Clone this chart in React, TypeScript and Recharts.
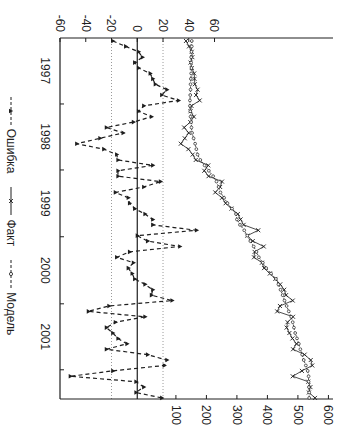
import { LineChart, Line, XAxis, YAxis, ReferenceLine, Legend } from 'recharts'

// monthly values, Jan 1997 onward
const model = [
  152, 152, 151, 150, 150, 151, 150, 149, 148, 148, 147, 146, 146, 147, 148, 150, 151,
  153, 158, 163, 167, 171, 180, 194, 208, 222, 233, 240, 246, 258, 269, 284, 297, 300,
  310, 324, 334, 344, 355, 364, 372, 385, 396, 412, 428, 436, 443, 450, 456, 463, 470,
  478, 483, 487, 491, 497, 503, 508, 514, 519, 526, 532, 535, 535, 536, 537, 537,
]
const fact = [
  133, 143, 152, 154, 148, 152, 160, 161, 162, 171, 166, 178, 151, 148, 159, 147, 127,
  142, 129, 116, 141, 155, 165, 206, 193, 207, 251, 245, 229, 251, 263, 282, 303, 312,
  322, 370, 334, 352, 388, 358, 356, 382, 389, 408, 426, 442, 455, 461, 483, 441, 432,
  484, 466, 463, 472, 482, 495, 484, 522, 542, 547, 513, 483, 534, 541, 536, 556,
]
const errors = [
  -19, -9, 1, 4, -2, 1, 10, 12, 14, 23, 19, 32, 5, 1, 11, -3, -24,
  -11, -29, -47, -26, -16, -15, 12, -15, -15, 18, 5, -17, -7, -6, -2, 6, 12,
  12, 46, 0, 8, 33, -6, -16, -3, -7, -4, -2, 6, 12, 11, 27, -22, -38,
  6, -17, -24, -19, -15, -8, -24, 8, 23, 21, -19, -52, -1, 5, -1, 19,
]

const years = ['1997', '1998', '1999', '2000', '2001']
const yearMid = [5.5, 17.7, 30, 42.4, 54.7]
const yearEdge = [11.65, 23.85, 36.2, 48.6, 60.8]
const errTicks = [-60, -40, -20, 0, 20, 40, 60]
const levelTicks = [100, 200, 300, 400, 500, 600]

const rows = fact.map((f, i) => ({ n: i, fact: f, model: model[i], err: errors[i] }))

const INK = '#1e1e1e'
const FONT = '"Liberation Sans", Arial, sans-serif'

function Triangle({ cx, cy, index }: any) {
  if (cx == null || cy == null) return <g key={index} />
  return <path key={index} d={`M${cx},${cy - 2.6}L${cx + 2.3},${cy + 1.6}L${cx - 2.3},${cy + 1.6}Z`} fill={INK} />
}

function Cross({ cx, cy, index }: any) {
  if (cx == null || cy == null) return <g key={index} />
  return (
    <path key={index} d={`M${cx - 2},${cy - 2}L${cx + 2},${cy + 2}M${cx - 2},${cy + 2}L${cx + 2},${cy - 2}`} stroke={INK} strokeWidth={0.9} />
  )
}

function Ring({ cx, cy, index }: any) {
  if (cx == null || cy == null) return <g key={index} />
  return <circle key={index} cx={cx} cy={cy} r={1.4} fill="#fff" stroke={INK} strokeWidth={0.7} />
}

function YearTick({ x, y, payload }: any) {
  const v = payload.value
  const k = yearMid.indexOf(v)
  if (k >= 0) {
    return (
      <text x={x} y={y + 19} textAnchor="middle" fontSize={12} fontFamily={FONT} fill={INK}>
        {years[k]}
      </text>
    )
  }
  return <line x1={x} x2={x} y1={y} y2={y - 4} stroke={INK} strokeWidth={1} />
}

function LegendBox() {
  const items = [
    { name: 'Ошибка', dash: '3 2', mark: <path d="M14,1.8L16.3,6L11.7,6Z" fill={INK} /> },
    { name: 'Факт', dash: undefined, mark: <path d="M12,2L16,6M12,6L16,2" stroke={INK} strokeWidth={0.9} /> },
    { name: 'Модель', dash: '3 2', mark: <circle cx={14} cy={4} r={1.6} fill="#fff" stroke={INK} strokeWidth={0.8} /> },
  ]
  return (
    <div style={{ display: 'flex', justifyContent: 'center', gap: 14, fontFamily: FONT, fontSize: 12, color: INK }}>
      {items.map(it => (
        <span key={it.name} style={{ display: 'flex', alignItems: 'center', gap: 4 }}>
          <svg width={28} height={8}>
            <line x1={0} x2={28} y1={4} y2={4} stroke={INK} strokeWidth={1} strokeDasharray={it.dash} />
            {it.mark}
          </svg>
          {it.name}
        </span>
      ))}
    </div>
  )
}

export default function App() {
  return (
    <div style={{ position: 'fixed', left: 0, top: 0, width: 346, height: 432, background: '#fff', overflow: 'hidden' }}>
      <div
        style={{
          position: 'absolute',
          left: 0,
          top: 0,
          width: 432,
          height: 346,
          transformOrigin: '0 0',
          transform: 'translateX(346px) rotate(90deg)',
        }}
      >
        <LineChart width={432} height={346} data={rows} margin={{ top: 13, right: 0, bottom: 36, left: 0 }}>
          <XAxis
            dataKey="n"
            type="number"
            domain={[-0.55, 66.2]}
            ticks={[...yearMid, ...yearEdge].sort((a, b) => a - b)}
            tick={<YearTick />}
            tickLine={false}
            tickSize={0}
            tickMargin={0}
            height={24}
            axisLine={{ stroke: INK, strokeWidth: 1.2 }}
            interval={0}
          />
          <YAxis
            yAxisId="err"
            domain={[-60, 152]}
            ticks={errTicks}
            width={38}
            tickSize={-4}
            tickMargin={10}
            tick={{ fill: INK, fontSize: 12, fontFamily: FONT }}
            tickLine={{ stroke: INK }}
            axisLine={{ stroke: INK, strokeWidth: 1.2 }}
            interval={0}
          />
          <YAxis
            yAxisId="lvl"
            orientation="right"
            domain={[-280, 615]}
            ticks={levelTicks}
            width={33}
            tickSize={-4}
            tickMargin={10}
            tick={{ fill: INK, fontSize: 12, fontFamily: FONT }}
            tickLine={{ stroke: INK }}
            axisLine={{ stroke: INK, strokeWidth: 1.2 }}
            interval={0}
          />
          <ReferenceLine yAxisId="err" y={20} stroke="#9a9a9a" strokeDasharray="1 2" />
          <ReferenceLine yAxisId="err" y={-20} stroke="#9a9a9a" strokeDasharray="1 2" />
          <ReferenceLine yAxisId="err" y={0} stroke={INK} strokeWidth={1.2} />
          <Legend
            layout="horizontal"
            verticalAlign="middle"
            align="center"
            wrapperStyle={{ top: 328, left: 0, width: 432 }}
            content={() => <LegendBox />}
          />
          <Line
            yAxisId="err"
            dataKey="err"
            name="Ошибка"
            stroke={INK}
            strokeWidth={1.2}
            strokeDasharray="4 3"
            dot={Triangle}
            activeDot={false}
            isAnimationActive={false}
          />
          <Line
            yAxisId="lvl"
            dataKey="fact"
            name="Факт"
            stroke={INK}
            strokeWidth={0.8}
            dot={Cross}
            activeDot={false}
            isAnimationActive={false}
          />
          <Line
            yAxisId="lvl"
            dataKey="model"
            name="Модель"
            stroke={INK}
            strokeWidth={0.8}
            strokeDasharray="2 1.5"
            dot={Ring}
            activeDot={false}
            isAnimationActive={false}
          />
        </LineChart>
      </div>
    </div>
  )
}
